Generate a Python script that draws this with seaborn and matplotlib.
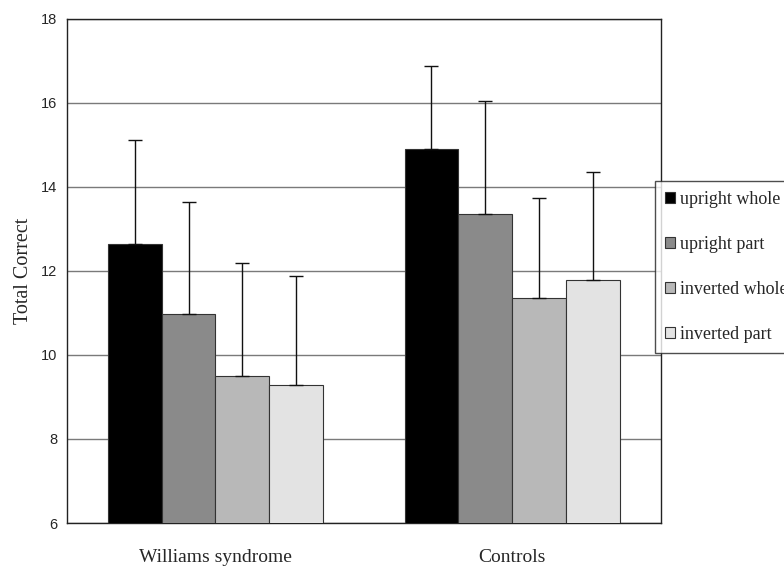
import numpy as np
import pandas as pd
import matplotlib
matplotlib.use("Agg")
import matplotlib.pyplot as plt
import seaborn as sns

# values
groups = ["Williams syndrome", "Controls"]
conditions = ["upright whole", "upright part", "inverted whole", "inverted part"]
ws_means = [12.65, 10.97, 9.50, 9.29]
ctrl_means = [14.90, 13.36, 11.36, 11.79]
ws_err = [2.47, 2.67, 2.69, 2.59]
ctrl_err = [1.98, 2.69, 2.38, 2.57]
colors = ["#000000", "#8a8a8a", "#b8b8b8", "#e3e3e3"]

df = pd.DataFrame({
    "group": np.repeat(groups, len(conditions)),
    "condition": conditions * len(groups),
    "mean": ws_means + ctrl_means,
    "err": ws_err + ctrl_err,
})

sns.set_style("white")
plt.rcParams["font.family"] = ["Liberation Serif", "DejaVu Serif"]

fig = plt.figure(figsize=(7.84, 5.67), dpi=100)
ax = fig.add_axes([0.0855, 0.0776, 0.757, 0.889])

sns.barplot(data=df, x="group", y="mean", hue="condition", hue_order=conditions,
            palette=colors, errorbar=None, width=0.725, edgecolor="#333333",
            linewidth=0.8, ax=ax, legend=True, zorder=3)

# upward-only error bars at the centre of each bar
for cont, cond in zip(ax.containers, conditions):
    sub = df[df["condition"] == cond]
    xs = [p.get_x() + p.get_width() / 2 for p in cont.patches]
    ax.errorbar(xs, sub["mean"].values, yerr=[np.zeros(len(xs)), sub["err"].values],
                fmt="none", ecolor="#111111", elinewidth=1.0, capsize=5,
                capthick=1.0, zorder=4)

ax.set_ylim(6, 18)
ax.set_xlim(-0.5, 1.5)
ax.set_yticks([6, 8, 10, 12, 14, 16, 18])
ax.yaxis.grid(True, color="#7a7a7a", linewidth=1.0, zorder=0)
ax.set_axisbelow(True)

for lab in ax.get_yticklabels():
    lab.set_fontfamily("Liberation Sans")
    lab.set_fontsize(10.5)
ax.tick_params(axis="y", direction="out", length=4, width=1, color="#222222", pad=3)
ax.tick_params(axis="x", which="major", length=0, labelsize=14, pad=19)
ax.set_xticks([-0.5, 0.5, 1.5], minor=True)
ax.tick_params(axis="x", which="minor", direction="out", length=5, width=1, color="#222222")

ax.set_xlabel("")
ax.set_ylabel("Total Correct", fontsize=14.5, labelpad=6)

for s in ax.spines.values():
    s.set_visible(True)
    s.set_color("#222222")
    s.set_linewidth(1.0)

handles, labels = ax.get_legend_handles_labels()
ax.get_legend().remove()
leg = fig.legend(handles, labels, loc="upper left", bbox_to_anchor=(655 / 784, 1 - 181 / 567),
                 frameon=True, fancybox=False, fontsize=13, handlelength=0.55,
                 handleheight=0.55, handletextpad=0.3, labelspacing=1.55,
                 borderpad=0.55, borderaxespad=0)
leg.get_frame().set_edgecolor("#222222")
leg.get_frame().set_linewidth(1.0)

fig.savefig("out.png", dpi=100)
